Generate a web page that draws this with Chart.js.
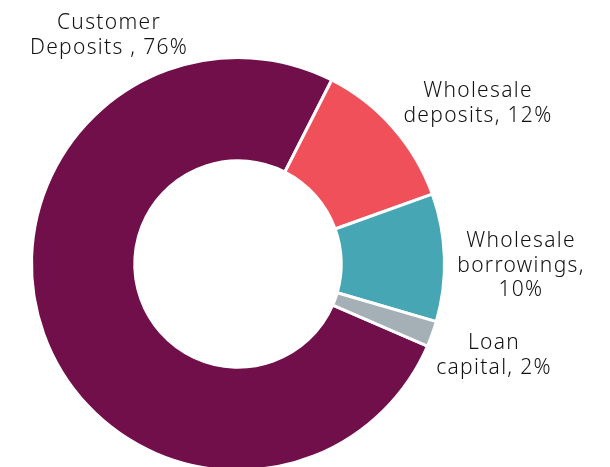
<!DOCTYPE html>
<html>
<head>
  <meta name="viewport" content="width=device-width, initial-scale=1.0">
  <title>Funding mix</title>
  <script src="https://cdn.jsdelivr.net/npm/chart.js"></script>
  <style>
    html, body {
      margin: 0;
      padding: 0;
      background-color: #ffffff;
      overflow: hidden;
    }

    .wrap {
      position: relative;
      width: 610px;
      height: 480px;
    }
  </style>
</head>
<body>
  <div class="wrap">
    <canvas id="myChart"></canvas>
  </div>

  <script>
    const categories = ['Customer Deposits', 'Wholesale deposits', 'Wholesale borrowings', 'Loan capital'];
    const shares = [76, 12, 10, 2];
    const sliceLabels = [
      ['Customer', 'Deposits , 76%'],
      ['Wholesale', 'deposits, 12%'],
      ['Wholesale', 'borrowings,', '10%'],
      ['Loan', 'capital, 2%']
    ];
    const sliceColours = ['#710f4b', '#f0505a', '#46a6b3', '#a4b0b6'];

    // where each label block sits (centre x, first baseline y)
    const labelSpots = [[109, 29], [478, 97], [521, 247], [494, 349]];

    const labelPlugin = {
      id: 'sliceText',
      afterDraw(chart) {
        const c = chart.ctx;
        c.save();
        c.fillStyle = '#111111';
        c.font = '300 21px "Noto Sans"';
        c.letterSpacing = '1.3px';
        c.textAlign = 'center';
        c.textBaseline = 'alphabetic';
        sliceLabels.forEach((lines, i) => {
          const [x, y] = labelSpots[i];
          lines.forEach((line, j) => {
            c.fillText(line, x, y + j * 24.5);
          });
        });
        c.restore();
      }
    };

    const ctx = document.getElementById('myChart').getContext('2d');
    const chart = new Chart(ctx, {
      type: 'doughnut',
      data: {
        labels: categories,
        datasets: [{
          data: shares,
          backgroundColor: sliceColours,
          borderColor: '#ffffff',
          borderWidth: 3
        }]
      },
      options: {
        responsive: true,
        maintainAspectRatio: false,
        animation: false,
        rotation: 113.4,
        cutout: '50%',
        layout: {
          padding: { left: 30, top: 56, right: 164, bottom: 8 }
        },
        plugins: {
          legend: { display: false },
          tooltip: { enabled: false }
        }
      },
      plugins: [labelPlugin]
    });
  </script>
</body>
</html>
